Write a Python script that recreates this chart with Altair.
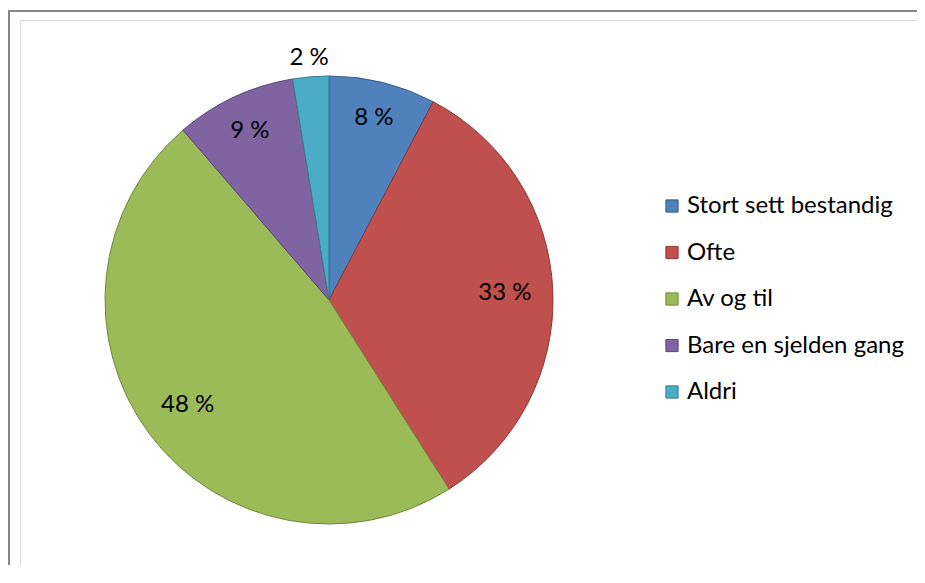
import altair as alt
import pandas as pd

categories = ["Stort sett bestandig", "Ofte", "Av og til", "Bare en sjelden gang", "Aldri"]
values = [7.7, 33.3, 47.7, 8.7, 2.6]
labels = ["8 %", "33 %", "48 %", "9 %", "2 %"]
fills = ["#4F81BD", "#C0504D", "#9BBB59", "#8064A2", "#4BACC6"]
strokes = ["#385D8A", "#8C3836", "#71893F", "#5C4776", "#357D91"]

df = pd.DataFrame({"kategori": categories, "verdi": values, "etikett": labels,
                   "rekke": list(range(len(categories)))})

FONT = "Lato"
FS = 24
CX, CY, R = 309, 280, 224

base = alt.Chart(df)

pie = base.mark_arc(outerRadius=R, strokeWidth=1).encode(
    theta=alt.Theta("verdi:Q", stack=True),
    order=alt.Order("rekke:Q"),
    color=alt.Color("kategori:N", sort=categories,
                    scale=alt.Scale(domain=categories, range=fills),
                    legend=alt.Legend(title=None, orient="none", legendX=640, legendY=174,
                                      symbolType="square", symbolSize=150,
                                      symbolStrokeWidth=1,
                                      labelFont=FONT, labelFontSize=FS, labelColor="#000000",
                                      labelOffset=3, rowPadding=22.5, labelLimit=400)),
    stroke=alt.Stroke("kategori:N", sort=categories,
                      scale=alt.Scale(domain=categories, range=strokes)),
    x=alt.value(CX), y=alt.value(CY),
)

text = base.transform_joinaggregate(
    total="sum(verdi)"
).transform_window(
    cum="sum(verdi)", sort=[alt.SortField("rekke")]
).transform_calculate(
    mid="(datum.cum - datum.verdi / 2) / datum.total * 2 * PI",
    lr="datum.verdi < 5 ? 243 : (datum.verdi > 20 ? 176 : 187)"
).mark_text(font=FONT, fontSize=FS, color="#000000").encode(
    theta=alt.Theta("mid:Q", scale=None, stack=None),
    radius=alt.Radius("lr:Q", scale=None),
    text="etikett:N",
    x=alt.value(CX), y=alt.value(CY),
)

frame_top = alt.Chart(pd.DataFrame({"a": [0]})).mark_rule(color="#868686", strokeWidth=2).encode(
    x=alt.value(-12), x2=alt.value(910), y=alt.value(-9))
frame_left = alt.Chart(pd.DataFrame({"a": [0]})).mark_rule(color="#868686", strokeWidth=2).encode(
    x=alt.value(-11), y=alt.value(-10), y2=alt.value(560))

chart = alt.layer(frame_top, frame_left, pie, text).properties(
    width=897, height=545,
    autosize=alt.AutoSizeParams(type="none"),
    padding={"left": 12, "top": 12, "right": 0, "bottom": 0},
).configure_view(stroke=None).configure(background="#FFFFFF")

chart.save("out.html", embed_options={"renderer": "svg", "actions": False})
